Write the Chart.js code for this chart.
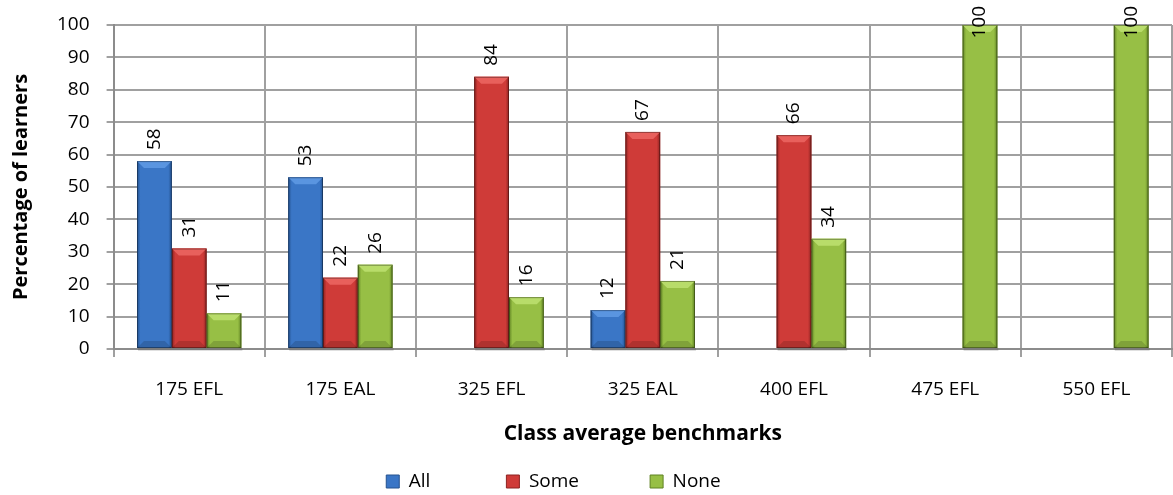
<!DOCTYPE html>
<html>
<head>
<meta charset="utf-8">
<script src="https://cdn.jsdelivr.net/npm/chart.js@4"></script>
<style>
  html, body { margin: 0; padding: 0; background: #fff; }
  #wrap { width: 1173px; height: 495px; position: relative; }
</style>
</head>
<body>
<div id="wrap"><canvas id="benchChart"></canvas></div>
<script>
const categories = ["175 EFL", "175 EAL", "325 EFL", "325 EAL", "400 EFL", "475 EFL", "550 EFL"];
const allValues = [58, 53, null, 12, null, null, null];
const someValues = [31, 22, 84, 67, 66, null, null];
const noneValues = [11, 26, 16, 21, 34, 100, 100];
const yTicks = [0, 10, 20, 30, 40, 50, 60, 70, 80, 90, 100];

const FONT = "'Open Sans', 'Liberation Sans', sans-serif";

// light / mid / dark shades for the bevelled bars
const shades = {
  All: ["#5a95e0", "#3a76c6", "#24528f"],
  Some: ["#e8605c", "#cf3b38", "#8c2321"],
  None: ["#b8dc6a", "#97bf45", "#5f8222"],
};

/* bevel look: repaint each bar with a horizontal gradient and a lighter top facet */
const bevelPlugin = {
  id: "bevel",
  afterDatasetsDraw(chart) {
    const ctx = chart.ctx;
    chart.data.datasets.forEach((ds, i) => {
      const meta = chart.getDatasetMeta(i);
      const c = shades[ds.label];
      meta.data.forEach((bar, j) => {
        if (ds.data[j] === null) return;
        const left = bar.x - bar.width / 2;
        const right = bar.x + bar.width / 2;
        const h = bar.base - bar.y;
        const d = Math.min(7, h / 2);
        ctx.save();
        // soft shadow below the bar
        ctx.fillStyle = "rgba(0,0,0,0.12)";
        ctx.fillRect(left + 1, bar.base, bar.width, 3);
        const g = ctx.createLinearGradient(left, 0, right, 0);
        g.addColorStop(0, c[2]);
        g.addColorStop(0.1, c[1]);
        g.addColorStop(0.5, c[1]);
        g.addColorStop(0.9, c[1]);
        g.addColorStop(1, c[2]);
        ctx.fillStyle = g;
        ctx.fillRect(left, bar.y, bar.width, h);
        // top facet
        ctx.fillStyle = c[0];
        ctx.beginPath();
        ctx.moveTo(left, bar.y);
        ctx.lineTo(right, bar.y);
        ctx.lineTo(right - d, bar.y + d);
        ctx.lineTo(left + d, bar.y + d);
        ctx.closePath();
        ctx.fill();
        // bottom facet
        ctx.fillStyle = "rgba(0,0,0,0.15)";
        ctx.beginPath();
        ctx.moveTo(left, bar.base);
        ctx.lineTo(right, bar.base);
        ctx.lineTo(right - d, bar.base - d);
        ctx.lineTo(left + d, bar.base - d);
        ctx.closePath();
        ctx.fill();
        ctx.strokeStyle = "rgba(0,0,0,0.35)";
        ctx.lineWidth = 1;
        ctx.strokeRect(left + 0.5, bar.y + 0.5, bar.width - 1, h - 1);
        ctx.restore();
      });
    });
  },
};

/* value labels drawn vertically above each bar */
const valueLabels = {
  id: "valueLabels",
  afterDatasetsDraw(chart) {
    const ctx = chart.ctx;
    ctx.save();
    ctx.font = "19px " + FONT;
    ctx.fillStyle = "#000";
    ctx.textAlign = "left";
    ctx.textBaseline = "middle";
    chart.data.datasets.forEach((ds, i) => {
      const meta = chart.getDatasetMeta(i);
      meta.data.forEach((bar, j) => {
        const v = ds.data[j];
        if (v === null || v === undefined) return;
        const text = String(v);
        const w = ctx.measureText(text).width;
        let y = bar.y - 11;
        if (y - w < 6) y = 6 + w;
        ctx.save();
        ctx.translate(bar.x, y);
        ctx.rotate(-Math.PI / 2);
        ctx.fillText(text, 0, 0);
        ctx.restore();
      });
    });
    ctx.restore();
  },
};

function initChart() {
  const ctx = document.getElementById("benchChart").getContext("2d");
  new Chart(ctx, {
    type: "bar",
    data: {
      labels: categories,
      datasets: [
        { label: "All", data: allValues, backgroundColor: shades.All[1] },
        { label: "Some", data: someValues, backgroundColor: shades.Some[1] },
        { label: "None", data: noneValues, backgroundColor: shades.None[1] },
      ],
    },
    options: {
      responsive: true,
      maintainAspectRatio: false,
      animation: false,
      layout: { padding: { top: 25, right: 1, left: 4, bottom: -6 } },
      datasets: {
        bar: { categoryPercentage: 0.69, barPercentage: 1.0 },
      },
      plugins: {
        tooltip: { enabled: false },
        legend: {
          position: "bottom",
          labels: {
            font: { family: FONT, size: 19 },
            color: "#000",
            boxWidth: 13,
            boxHeight: 13,
            padding: 2,
            generateLabels(chart) {
              // trailing spaces keep the wide gaps between the three entries
              return chart.data.datasets.map((ds, i) => ({
                text: ds.label + (i === 0 ? "               " : "              "),
                fillStyle: shades[ds.label][1],
                strokeStyle: shades[ds.label][2],
                lineWidth: 1,
                datasetIndex: i,
              }));
            },
          },
        },
      },
      scales: {
        x: {
          grid: { color: "#a0a0a0", lineWidth: 2, offset: true, tickLength: 8 },
          border: { color: "#8c8c8c", width: 2 },
          ticks: { font: { family: FONT, size: 19 }, color: "#000", padding: 21 },
          title: {
            display: true,
            text: "Class average benchmarks",
            font: { family: FONT, size: 21, weight: "bold" },
            color: "#000",
            padding: { top: 0, bottom: 23 },
          },
        },
        y: {
          min: 0,
          max: 100,
          afterBuildTicks(axis) {
            axis.ticks = yTicks.map((v) => ({ value: v }));
          },
          // tick padding would otherwise also be reserved above the axis
          afterFit(axis) {
            axis.paddingTop = 0;
          },
          grid: { color: "#a0a0a0", lineWidth: 2, tickLength: 7 },
          border: { color: "#8c8c8c", width: 2 },
          ticks: { font: { family: FONT, size: 19 }, color: "#000", padding: 17 },
          title: {
            display: true,
            text: "Percentage of learners",
            font: { family: FONT, size: 20, weight: "bold" },
            color: "#000",
            padding: { top: 5, bottom: 7 },
          },
        },
      },
    },
    plugins: [bevelPlugin, valueLabels],
  });
}

window.onload = initChart;
</script>
</body>
</html>
